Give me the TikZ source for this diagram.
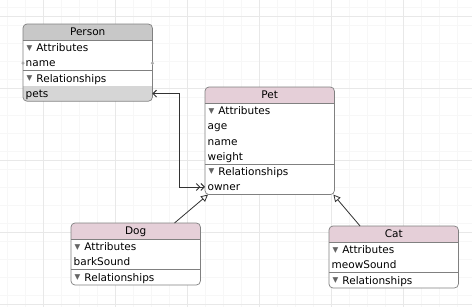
\documentclass[tikz,border=0pt]{standalone}
\usepackage{fontspec}
\setmainfont{DejaVu Sans}
\usetikzlibrary{
  arrows.meta,
  positioning,
  calc,
  backgrounds
}
\definecolor{xgrid}{RGB}{232,232,232}
\definecolor{xgridfaint}{RGB}{247,247,247}
\definecolor{xedge}{RGB}{128,128,128}
\definecolor{xpink}{RGB}{229,207,216}
\definecolor{xgray}{RGB}{200,200,200}
\definecolor{xsel}{RGB}{214,214,214}
\definecolor{xtri}{RGB}{100,100,100}
\definecolor{xwire}{RGB}{50,50,50}
\definecolor{xhandle}{RGB}{170,170,170}

\newcommand{\disclose}[1]{\hspace{1pt}\textcolor{xtri}{\raisebox{1.6pt}{\fontsize{7.5}{7.5}\selectfont ▼}}\hspace{4pt}#1}

\pgfdeclarelayer{grid}
\pgfsetlayers{grid,background,main}

\begin{document}
\begin{tikzpicture}[
  x=1pt, y=-1pt,
  row/.style={
    inner xsep=2.5pt, inner ysep=0pt, text width=124pt, align=left,
    minimum height=14.8pt, text height=9.5pt, text depth=2pt,
    font=\fontsize{10.5}{12}\selectfont
  },
  headrow/.style={row, minimum height=16pt, align=center, anchor=north west},
  outline/.style={draw=xedge, line width=0.7pt, rounded corners=4pt},
  divider/.style={draw=xedge, line width=0.6pt},
  relwire/.style={xwire, line width=0.9pt,
    {Straight Barb[length=3.5pt,width=7pt]}-{Straight Barb[length=3.5pt,width=7pt] Straight Barb[length=3.5pt,width=7pt]}},
  inherit/.style={xwire, line width=0.8pt, -{Triangle[open, length=7pt, width=7pt]}}
]
  \useasboundingbox (0,0) rectangle (472,307);

  % grid paper
  \begin{pgfonlayer}{grid}
    \fill[white] (0,0) rectangle (472,307);
    \foreach \gx in {7,25,...,472}
      \draw[xgridfaint, line width=0.5pt] (\gx,0) -- (\gx,307);
    \foreach \gy in {7,25,...,307}
      \draw[xgridfaint, line width=0.5pt] (0,\gy) -- (472,\gy);
    \foreach \gx in {43,115,...,472}
      \draw[xgrid, line width=0.6pt] (\gx,0) -- (\gx,307);
    \foreach \gy in {16,88,...,307}
      \draw[xgrid, line width=0.6pt] (0,\gy) -- (472,\gy);
  \end{pgfonlayer}

  % Person
  \node[headrow] (personHead) at (23,24) {Person};
  \node[row, below=0pt of personHead] (personAttr) {\disclose{Attributes}};
  \node[row, below=0pt of personAttr] (personName) {name};
  \node[row, below=0pt of personName] (personRel) {\disclose{Relationships}};
  \node[row, below=0pt of personRel]  (personPets) {pets};

  % Pet
  \node[headrow] (petHead) at (205,87) {Pet};
  \node[row, below=0pt of petHead]   (petAttr) {\disclose{Attributes}};
  \node[row, below=0pt of petAttr]   (petAge) {age};
  \node[row, below=0pt of petAge]    (petName) {name};
  \node[row, below=0pt of petName]   (petWeight) {weight};
  \node[row, below=0pt of petWeight] (petRel) {\disclose{Relationships}};
  \node[row, below=0pt of petRel]    (petOwner) {owner};

  % Dog
  \node[headrow] (dogHead) at (71,223) {Dog};
  \node[row, below=0pt of dogHead] (dogAttr) {\disclose{Attributes}};
  \node[row, below=0pt of dogAttr] (dogBark) {barkSound};
  \node[row, below=0pt of dogBark] (dogRel) {\disclose{Relationships}};

  % Cat
  \node[headrow] (catHead) at (329,226) {Cat};
  \node[row, below=0pt of catHead] (catAttr) {\disclose{Attributes}};
  \node[row, below=0pt of catAttr] (catMeow) {meowSound};
  \node[row, below=0pt of catMeow] (catRel) {\disclose{Relationships}};

  % box bodies and header bands
  \begin{scope}[on background layer]
    \foreach \head/\last/\tint in {personHead/personPets/xgray, petHead/petOwner/xpink,
                                   dogHead/dogRel/xpink, catHead/catRel/xpink} {
      \begin{scope}
        \clip[rounded corners=4pt] (\head.north west) rectangle (\last.south east);
        \fill[white] (\head.north west) rectangle (\last.south east);
        \fill[\tint] (\head.north west) rectangle (\head.south east);
      \end{scope}
    }
    \begin{scope}
      \clip[rounded corners=4pt] (personHead.north west) rectangle (personPets.south east);
      \fill[xsel] (personPets.north west) rectangle (personPets.south east);
    \end{scope}
  \end{scope}

  \foreach \head/\last/\rel in {personHead/personPets/personRel, petHead/petOwner/petRel,
                                dogHead/dogRel/dogRel, catHead/catRel/catRel} {
    \draw[outline] (\head.north west) rectangle (\last.south east);
    \draw[divider] (\head.south west) -- (\head.south east);
    \draw[divider] (\rel.north west) -- (\rel.north east);
  }

  % resize handles on the selected entity
  \fill[xhandle] (personName.west) circle (1.7pt);
  \fill[xhandle] (personName.east) circle (1.7pt);

  % relationship pets <-> owner
  \draw[relwire] (personPets.east) -- ++(27,0) |- (petOwner.west);

  % inheritance
  \draw[inherit] ($(dogHead.north west)!0.8!(dogHead.north east)$) -- ($(petOwner.south west)+(3,0)$);
  \draw[inherit] ($(catHead.north west)!0.24!(catHead.north east)$) -- ($(petOwner.south east)+(-1,0)$);
\end{tikzpicture}
\end{document}
